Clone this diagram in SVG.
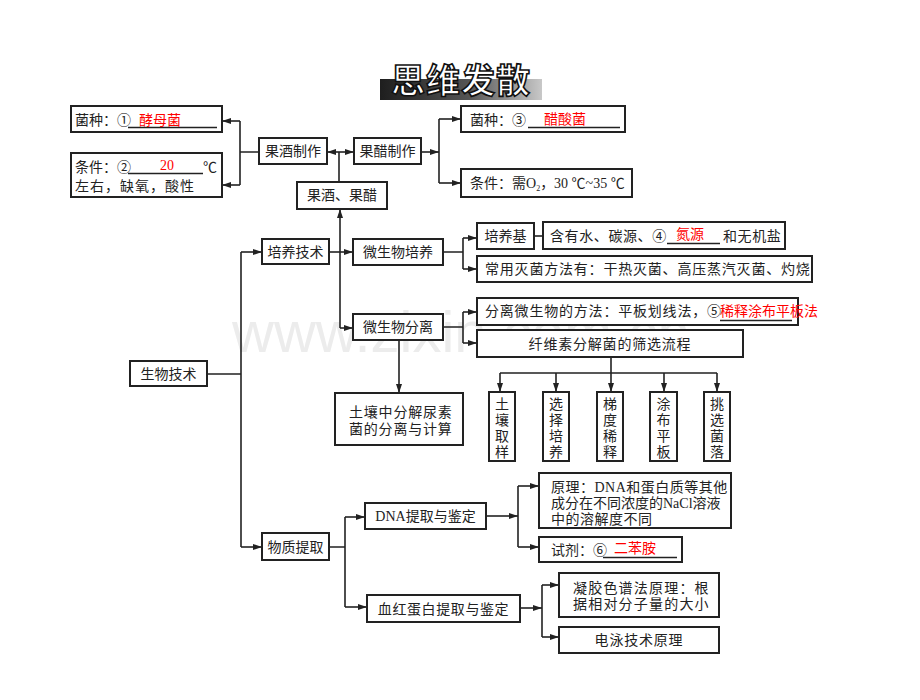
<svg xmlns="http://www.w3.org/2000/svg" width="920" height="700" viewBox="0 0 920 700">
<defs>
<style>
.b{fill:#fff;stroke:#222;stroke-width:2}
.t{font-family:"Liberation Serif","Noto Sans CJK SC",serif;font-size:14px;fill:#222}
.c{text-anchor:middle}
.r{fill:#f00}
.u{stroke:#222;stroke-width:1.4;fill:none}
#conn path{fill:none;stroke:#222;stroke-width:1.6}
.a{marker-end:url(#ah)}
</style>
<marker id="ah" markerWidth="9" markerHeight="6" refX="9" refY="3" orient="auto" markerUnits="userSpaceOnUse"><path d="M0,0 L9,3 L0,6 z" fill="#222"/></marker>
<linearGradient id="bar" x1="0" y1="0" x2="1" y2="0"><stop offset="0" stop-color="#1e1e1e"/><stop offset="0.55" stop-color="#555"/><stop offset="1" stop-color="#c8c8c8"/></linearGradient>
</defs>
<rect width="920" height="700" fill="#fff"/>
<text x="232" y="352" font-family="Liberation Sans,sans-serif" font-size="58" fill="#ececec">www.zixin.com.cn</text>

<g id="title">
<rect x="380" y="79" width="162" height="21" fill="url(#bar)"/>
<text x="461" y="93" text-anchor="middle" font-family="Noto Sans CJK SC,sans-serif" font-weight="bold" font-size="34" fill="#fff" stroke="#111" stroke-width="1.6" letter-spacing="1">思维发散</text>
</g>

<g id="conn">
<path d="M259,152 H240 M240,121 V185"/>
<path class="a" d="M240,121 H222"/>
<path class="a" d="M240,185 H222"/>
<path class="a" d="M339,152 H327"/>
<path class="a" d="M339,152 H354"/>
<path d="M339,152 V182"/>
<path class="a" d="M421,152 H439"/>
<path d="M439,119 V183"/>
<path class="a" d="M439,119 H461"/>
<path class="a" d="M439,183 H461"/>
<path d="M207,374 H241 M241,252 V547"/>
<path class="a" d="M241,252 H262"/>
<path class="a" d="M241,547 H262"/>
<path class="a" d="M329,252 H353"/>
<path class="a" d="M340,328 V209"/>
<path class="a" d="M340,328 H353"/>
<path d="M443,252 H463 M463,238 V269"/>
<path class="a" d="M463,238 H477"/>
<path class="a" d="M463,269 H477"/>
<path d="M534,236 H543"/>
<path d="M443,327 H463 M463,312 V343"/>
<path class="a" d="M463,312 H477"/>
<path class="a" d="M463,343 H477"/>
<path class="a" d="M399,340 V393"/>
<path d="M611,357 V373 M500,373 H717"/>
<path class="a" d="M500,373 V392"/>
<path class="a" d="M556,373 V392"/>
<path class="a" d="M611,373 V392"/>
<path class="a" d="M664,373 V392"/>
<path class="a" d="M717,373 V392"/>
<path d="M329,547 H345 M345,517 V607"/>
<path class="a" d="M345,517 H365"/>
<path class="a" d="M345,607 H367"/>
<path class="a" d="M486,516 H518"/>
<path d="M518,486 V547"/>
<path class="a" d="M518,486 H539"/>
<path class="a" d="M518,547 H539"/>
<path class="a" d="M520,608 H542"/>
<path d="M542,585 V637"/>
<path class="a" d="M542,585 H559"/>
<path class="a" d="M542,637 H559"/>
</g>

<g id="n_jz1">
<rect class="b" x="71" y="106" width="151" height="26"/>
<text class="t" x="75" y="125">菌种：①</text>
<path class="u" d="M128,127.5 H217"/>
<text class="t r" x="160" y="125" text-anchor="middle">酵母菌</text>
</g>
<g id="n_tj1">
<rect class="b" x="71" y="153" width="151" height="44"/>
<text class="t" x="75" y="172">条件：②</text>
<path class="u" d="M128,173.5 H203"/>
<text class="t r" x="167" y="170" text-anchor="middle">20</text>
<text class="t" x="203" y="172">℃</text>
<text class="t" x="75" y="191" letter-spacing="1">左右，缺氧，酸性</text>
</g>
<g id="n_gjzz">
<rect class="b" x="259" y="138" width="68" height="26"/>
<text class="t c" x="293" y="156">果酒制作</text>
</g>
<g id="n_gczz">
<rect class="b" x="354" y="138" width="67" height="26"/>
<text class="t c" x="387.5" y="156">果醋制作</text>
</g>
<g id="n_gjgc">
<rect class="b" x="297" y="182" width="90" height="27"/>
<text class="t c" x="342" y="200">果酒、果醋</text>
</g>
<g id="n_jz3">
<rect class="b" x="461" y="106" width="164" height="26"/>
<text class="t" x="470" y="125">菌种：③</text>
<path class="u" d="M528,127.5 H620"/>
<text class="t r" x="565" y="124" text-anchor="middle" font-size="15">醋酸菌</text>
</g>
<g id="n_tj3">
<rect class="b" x="461" y="169" width="171" height="28"/>
<text class="t" x="470" y="188">条件：需O<tspan font-size="8" dy="3">2</tspan><tspan dy="-3">，30 ℃~35 ℃</tspan></text>
</g>

<g id="n_pyjs">
<rect class="b" x="262" y="239" width="67" height="25"/>
<text class="t c" x="295.5" y="257">培养技术</text>
</g>
<g id="n_wswpy">
<rect class="b" x="353" y="239" width="90" height="26"/>
<text class="t c" x="398" y="257">微生物培养</text>
</g>
<g id="n_wswfl">
<rect class="b" x="353" y="314" width="90" height="26"/>
<text class="t c" x="398" y="332">微生物分离</text>
</g>
<g id="n_pyj">
<rect class="b" x="477" y="223" width="57" height="26"/>
<text class="t c" x="505.5" y="241">培养基</text>
</g>
<g id="n_hys">
<rect class="b" x="543" y="222" width="242" height="27"/>
<text class="t" x="550" y="241" letter-spacing="0.6">含有水、碳源、④</text>
<path class="u" d="M667,243.5 H720"/>
<text class="t r" x="690" y="239" text-anchor="middle" font-size="15">氮源</text>
<text class="t" x="723" y="241" letter-spacing="0.6">和无机盐</text>
</g>
<g id="n_mj">
<rect class="b" x="477" y="256" width="335" height="26"/>
<text class="t" x="485" y="274" letter-spacing="0.8">常用灭菌方法有：干热灭菌、高压蒸汽灭菌、灼烧</text>
</g>
<g id="n_flff">
<rect class="b" x="477" y="298" width="321" height="27"/>
<text class="t" x="485" y="316" letter-spacing="0.8">分离微生物的方法：平板划线法，⑤</text>
<path class="u" d="M720,320.5 H792"/>
<text class="t r" x="720" y="316" font-size="15">稀释涂布平板法</text>
</g>
<g id="n_xws">
<rect class="b" x="477" y="330" width="266" height="27"/>
<text class="t c" x="610" y="349" letter-spacing="0.8">纤维素分解菌的筛选流程</text>
</g>
<g id="n_swjs">
<rect class="b" x="130" y="361" width="77" height="25"/>
<text class="t c" x="168.5" y="379">生物技术</text>
</g>
<g id="n_trzh">
<rect class="b" x="335" y="393" width="128" height="52"/>
<text class="t" x="349" y="417" letter-spacing="0.8">土壤中分解尿素</text>
<text class="t" x="349" y="434" letter-spacing="0.8">菌的分离与计算</text>
</g>
<g id="n_s1">
<rect class="b" x="489" y="392" width="26" height="69"/>
<text class="t c" x="502" y="409">土</text><text class="t c" x="502" y="425">壤</text><text class="t c" x="502" y="441">取</text><text class="t c" x="502" y="457">样</text>
</g>
<g id="n_s2">
<rect class="b" x="543" y="392" width="26" height="69"/>
<text class="t c" x="556" y="409">选</text><text class="t c" x="556" y="425">择</text><text class="t c" x="556" y="441">培</text><text class="t c" x="556" y="457">养</text>
</g>
<g id="n_s3">
<rect class="b" x="597" y="392" width="26" height="69"/>
<text class="t c" x="610" y="409">梯</text><text class="t c" x="610" y="425">度</text><text class="t c" x="610" y="441">稀</text><text class="t c" x="610" y="457">释</text>
</g>
<g id="n_s4">
<rect class="b" x="650" y="392" width="27" height="69"/>
<text class="t c" x="663.5" y="409">涂</text><text class="t c" x="663.5" y="425">布</text><text class="t c" x="663.5" y="441">平</text><text class="t c" x="663.5" y="457">板</text>
</g>
<g id="n_s5">
<rect class="b" x="704" y="392" width="26" height="69"/>
<text class="t c" x="717" y="409">挑</text><text class="t c" x="717" y="425">选</text><text class="t c" x="717" y="441">菌</text><text class="t c" x="717" y="457">落</text>
</g>

<g id="n_wztq">
<rect class="b" x="262" y="533" width="67" height="27"/>
<text class="t c" x="295.5" y="552">物质提取</text>
</g>
<g id="n_dna">
<rect class="b" x="365" y="503" width="121" height="26"/>
<text class="t c" x="425.5" y="521">DNA提取与鉴定</text>
</g>
<g id="n_xhdb">
<rect class="b" x="367" y="595" width="153" height="27"/>
<text class="t c" x="443.5" y="614" letter-spacing="0.6">血红蛋白提取与鉴定</text>
</g>
<g id="n_yl">
<rect class="b" x="539" y="473" width="192" height="55"/>
<text class="t" x="551" y="492" letter-spacing="0.5">原理：DNA和蛋白质等其他</text>
<text class="t" x="551" y="508">成分在不同浓度的NaCl溶液</text>
<text class="t" x="551" y="524" letter-spacing="0.5">中的溶解度不同</text>
</g>
<g id="n_sj">
<rect class="b" x="539" y="537" width="143" height="25"/>
<text class="t" x="551" y="555">试剂：⑥</text>
<path class="u" d="M603,557.5 H677"/>
<text class="t r" x="635" y="553" text-anchor="middle" font-size="15">二苯胺</text>
</g>
<g id="n_njsp">
<rect class="b" x="559" y="573" width="160" height="44"/>
<text class="t" x="573" y="593" letter-spacing="1.2">凝胶色谱法原理：根</text>
<text class="t" x="573" y="609" letter-spacing="1.2">据相对分子量的大小</text>
</g>
<g id="n_dy">
<rect class="b" x="559" y="627" width="160" height="26"/>
<text class="t c" x="639" y="645" letter-spacing="0.8">电泳技术原理</text>
</g>
</svg>
